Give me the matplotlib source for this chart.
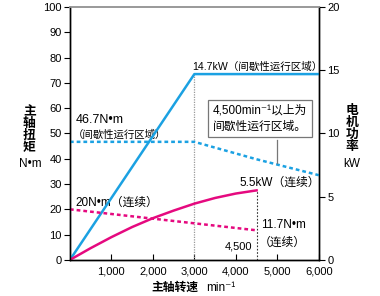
import matplotlib
matplotlib.use("Agg")
import matplotlib.pyplot as plt

plt.rcParams['font.family'] = ['Liberation Sans', 'Noto Sans CJK SC', 'DejaVu Sans']
plt.rcParams['font.size'] = 8

BLUE = '#1ba1e2'
PINK = '#e5097f'

# spindle speed (min-1) and values
pow_max_x = [0, 3000, 6000]
pow_max_kw = [0, 14.7, 14.7]

trq_max_x = [0, 3000, 4500, 6000]
trq_max_nm = [46.7, 46.7, 39.8, 33.5]

pow_cont_x = [0, 500, 1000, 1500, 2000, 2500, 3000, 3500, 4000, 4500]
pow_cont_kw = [0, 0.93, 1.8, 2.6, 3.3, 3.9, 4.45, 4.9, 5.25, 5.5]

trq_cont_x = [0, 4500]
trq_cont_nm = [20, 11.7]

x_ticks = [1000, 2000, 3000, 4000, 5000, 6000]
x_tick_labels = ['1,000', '2,000', '3,000', '4,000', '5,000', '6,000']
y_ticks = [0, 10, 20, 30, 40, 50, 60, 70, 80, 90, 100]
y2_ticks = [0, 5, 10, 15, 20]

fig = plt.figure(figsize=(3.8, 2.96), dpi=100)
ax = fig.add_axes([0.184, 0.122, 0.655, 0.854])
ax2 = ax.twinx()

# kW -> N*m scale on the left axis (20 kW == 100)
k = 5
ax.plot(pow_max_x, [v * k for v in pow_max_kw], color=BLUE, lw=1.8, zorder=4)
ax.plot(trq_max_x, trq_max_nm, color=BLUE, lw=1.8, ls=(0, (1.5, 1.2)), zorder=4)
ax.plot(pow_cont_x, [v * k for v in pow_cont_kw], color=PINK, lw=1.8, zorder=4)
ax.plot(trq_cont_x, trq_cont_nm, color=PINK, lw=1.8, ls=(0, (1.5, 1.2)), zorder=4)

ax.plot([3000, 3000], [0, pow_max_kw[1] * k], color='#999999', lw=0.9, ls=(0, (1, 1)), zorder=3)
ax.plot([4500, 4500], [0, pow_cont_kw[-1] * k], color='#333333', lw=0.8, ls=(0, (1.5, 1.5)), zorder=3)

ax.set_xlim(0, 6000)
ax.set_ylim(0, 100)
ax2.set_ylim(0, 20)
ax.set_xticks(x_ticks)
ax.set_xticklabels(x_tick_labels)
ax.set_yticks(y_ticks)
ax2.set_yticks(y2_ticks)
ax.tick_params(axis='x', direction='in', length=4, width=0.8, pad=5)
ax.tick_params(axis='y', direction='out', length=4, width=0.8, pad=2)
ax2.tick_params(axis='y', direction='out', length=4, width=0.8, pad=2)
for a in (ax, ax2):
    a.spines['top'].set_color('#999999')
    a.spines['top'].set_linewidth(1.2)
    for s in ('left', 'right', 'bottom'):
        a.spines[s].set_linewidth(1.0)

# annotations
ax.text(130, 55.3, '46.7N•m', fontsize=9, va='center')
ax.text(80, 49.4, '（间歇性运行区域）', fontsize=7.5, va='center')
ax.text(2950, 76.5, '14.7kW（间歇性运行区域）', fontsize=7.6, va='center')
ax.text(130, 22.5, '20N•m（连续）', fontsize=8.5, va='center')
ax.text(6030, 30.4, '5.5kW（连续）', fontsize=8.5, ha='right', va='center')
ax.text(4600, 13.8, '11.7N•m', fontsize=8.5, va='center')
ax.text(4560, 6.7, '（连续）', fontsize=8.5, va='center')
ax.text(4390, 5.3, '4,500', fontsize=8, ha='right', va='center')

ax.text(3446, 56.0, '4,500min⁻¹以上为\n间歇性运行区域。', fontsize=8.5, linespacing=1.45,
        va='center', bbox=dict(boxstyle='square,pad=0.4', fc='white', ec='#777777', lw=0.9),
        zorder=5)
ax.plot([5000, 5000], [38.3, 47.5], color='#777777', lw=0.9, zorder=5)

# vertical axis titles, one character per line
for i, ch in enumerate('主轴扭矩'):
    fig.text(0.077, 1 - (112 + i * 12) / 296, ch, ha='center', va='center',
             fontsize=9.2, fontweight='bold')
fig.text(0.079, 1 - 164 / 296, 'N•m', ha='center', va='center', fontsize=8.5)
for i, ch in enumerate('电机功率'):
    fig.text(352 / 380, 1 - (111 + i * 12) / 296, ch, ha='center', va='center',
             fontsize=9.2, fontweight='bold')
fig.text(352 / 380, 1 - 164 / 296, 'kW', ha='center', va='center', fontsize=8.5)
fig.text(175 / 380, 0.027, '主轴转速', ha='center', va='center', fontsize=8.5, fontweight='bold')
fig.text(221 / 380, 0.027, 'min⁻¹', ha='center', va='center', fontsize=8.5)

fig.savefig('out.png', dpi=100)
